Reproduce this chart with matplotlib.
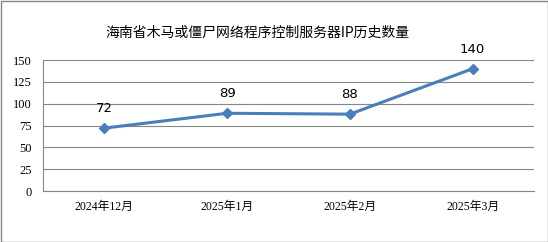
import matplotlib
matplotlib.use("Agg")
import matplotlib.pyplot as plt
from matplotlib.patches import Rectangle

categories = ["2024年12月", "2025年1月", "2025年2月", "2025年3月"]
values = [72, 89, 88, 140]
yticks = [0, 25, 50, 75, 100, 125, 150]
title = "海南省木马或僵尸网络程序控制服务器IP历史数量"

serif = ["Liberation Serif", "Noto Sans CJK SC"]
cjk = ["Noto Sans CJK SC", "DejaVu Sans"]

fig = plt.figure(figsize=(5.48, 2.42), dpi=100)
ax = fig.add_axes([43/548, 1-191/242, (534-43)/548, (191-60)/242])

x = list(range(len(categories)))
ax.plot(x, values, color="#4a7ebb", lw=2.2, marker="D", ms=5.5, zorder=3)
for xi, v in zip(x, values):
    ax.annotate(str(v), (xi, v), xytext=(0, 14), textcoords="offset points",
                ha="center", va="center", fontsize=9.5, family="DejaVu Sans")

ax.set_xlim(-0.5, 3.5)
ax.set_ylim(0, 150)
ax.set_yticks(yticks)
ax.set_xticks(x)
ax.set_xticklabels(categories, family=serif, fontsize=8.5)
for lab in ax.get_yticklabels():
    lab.set_family(serif)
    lab.set_fontsize(9)
ax.tick_params(axis="both", length=0, pad=7)
ax.tick_params(axis="y", pad=8)
ax.grid(axis="y", color="#868686", lw=0.8)
ax.set_axisbelow(True)
for s in ["top", "right"]:
    ax.spines[s].set_visible(False)
for s in ["left", "bottom"]:
    ax.spines[s].set_color("#868686")
    ax.spines[s].set_linewidth(0.8)

fig.text(257/548, 1-33/242, title, ha="center", va="center", fontsize=10, family=cjk)
fig.patches.append(Rectangle((0.5/548, 0.5/242), 1-1/548, 1-1/242, transform=fig.transFigure,
                             fill=False, edgecolor="#868686", lw=1.0))
fig.savefig("out.png", dpi=100)
